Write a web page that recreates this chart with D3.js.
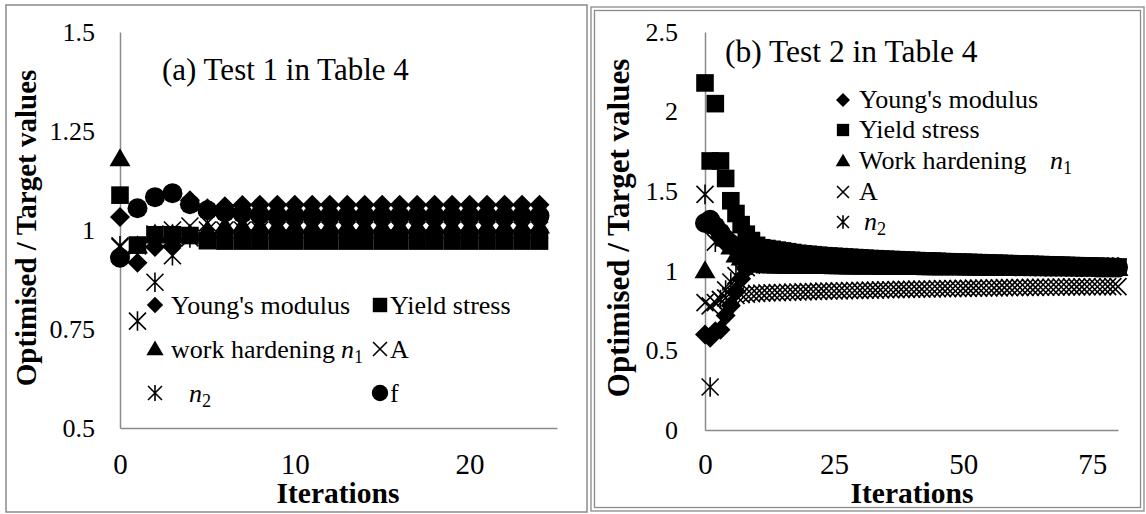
<!DOCTYPE html>
<html><head><meta charset="utf-8">
<script src="https://cdn.jsdelivr.net/npm/d3@7"></script>
<style>body{margin:0;background:#fff}svg{display:block}text{font-family:"Liberation Serif","Times New Roman",serif}</style>
</head><body>
<svg id="c" width="1146" height="514"></svg>
<script>
// ---------- Panel (a): Test 1 ----------
const leftXTicks = [0, 10, 20];
const leftYTicks = [0.5, 0.75, 1, 1.25, 1.5];
const leftYoung = [1.033,0.917,0.957,0.96,1.075,1.055,1.06,1.063,1.064,1.064,1.064,1.064,1.064,1.064,1.064,1.064,1.064,1.064,1.064,1.064,1.064,1.064,1.064,1.064,1.064];
const leftYield = [1.088,0.962,0.988,0.988,0.986,0.973,0.972,0.972,0.972,0.972,0.972,0.972,0.972,0.972,0.972,0.972,0.972,0.972,0.972,0.972,0.972,0.972,0.972,0.972,0.972];
const leftN1    = [1.18,0.96,0.99,0.99,0.99,1.0,1.01,1.01,1.01,1.01,1.01,1.01,1.01,1.01,1.01,1.01,1.01,1.01,1.01,1.01,1.01,1.01,1.01,1.01,1.01];
const leftA     = [0.957,0.96,0.99,1.0,1.01,1.018,1.02,1.02,1.02,1.02,1.02,1.02,1.02,1.02,1.02,1.02,1.02,1.02,1.02,1.02,1.02,1.02,1.02,1.02,1.02];
const leftN2    = [0.96,0.77,0.868,0.935,0.98,1.0,1.0,1.0,1.0,1.0,1.0,1.0,1.0,1.0,1.0,1.0,1.0,1.0,1.0,1.0,1.0,1.0,1.0,1.0,1.0];
const leftF     = [0.93,1.055,1.083,1.093,1.065,1.05,1.045,1.042,1.038,1.036,1.036,1.036,1.036,1.036,1.036,1.036,1.036,1.036,1.036,1.036,1.036,1.036,1.036,1.036,1.036];

// ---------- Panel (b): Test 2 ----------
const rightXTicks = [0, 25, 50, 75];
const rightYTicks = [0, 0.5, 1, 1.5, 2, 2.5];
const rightYoung = [0.6,0.58,0.62,0.63,0.72,0.78,0.87,0.95,1.01,1.05,1.07,
 1.075,1.075,1.074,1.073,1.072,1.071,1.07,1.069,1.068,1.067,
 1.066,1.065,1.064,1.063,1.062,1.061,1.06,1.059,1.058,1.057,
 1.056,1.055,1.054,1.053,1.052,1.051,1.05,1.049,1.048,1.047,
 1.046,1.045,1.044,1.043,1.042,1.041,1.04,1.039,1.038,1.037,
 1.036,1.036,1.035,1.035,1.034,1.034,1.033,1.033,1.032,1.032,
 1.031,1.031,1.03,1.03,1.029,1.029,1.028,1.028,1.027,1.027,
 1.026,1.026,1.025,1.025,1.024,1.024,1.023,1.023,1.022,1.022];
const rightYield = [2.18,1.69,2.05,1.69,1.58,1.44,1.36,1.29,1.23,1.19,1.16,
 1.145,1.14,1.135,1.13,1.125,1.12,1.115,1.11,1.107,1.104,
 1.101,1.098,1.095,1.093,1.091,1.089,1.087,1.085,1.083,1.081,
 1.079,1.077,1.076,1.074,1.073,1.071,1.07,1.068,1.067,1.066,
 1.064,1.063,1.062,1.061,1.06,1.058,1.057,1.056,1.055,1.054,
 1.053,1.052,1.051,1.05,1.049,1.048,1.047,1.046,1.045,1.044,
 1.043,1.042,1.041,1.04,1.039,1.038,1.037,1.036,1.035,1.034,
 1.033,1.032,1.031,1.03,1.029,1.028,1.027,1.026,1.025,1.024];
const rightN1 = [1.0,1.3,1.28,1.25,1.2,1.15,1.1,1.08,1.06,1.05,1.04,
 1.035,1.032,1.03,1.03,1.03,1.029,1.029,1.029,1.028,1.028,
 1.028,1.027,1.027,1.027,1.026,1.026,1.026,1.025,1.025,1.025,
 1.024,1.024,1.024,1.023,1.023,1.023,1.022,1.022,1.022,1.021,
 1.021,1.021,1.02,1.02,1.02,1.02,1.019,1.019,1.019,1.019,
 1.018,1.018,1.018,1.018,1.017,1.017,1.017,1.017,1.017,1.016,
 1.016,1.016,1.016,1.016,1.016,1.015,1.015,1.015,1.015,1.015,
 1.015,1.015,1.015,1.015,1.015,1.015,1.015,1.015,1.015,1.015];
const rightA = [0.8,0.78,0.8,0.82,0.83,0.84,0.845,0.85,0.853,0.856,0.858,
 0.86,0.861,0.862,0.863,0.864,0.865,0.866,0.867,0.868,0.869,
 0.87,0.871,0.872,0.873,0.873,0.874,0.875,0.876,0.876,0.877,
 0.878,0.879,0.879,0.88,0.881,0.881,0.882,0.883,0.883,0.884,
 0.885,0.885,0.886,0.886,0.887,0.888,0.888,0.889,0.889,0.89,
 0.89,0.891,0.891,0.892,0.892,0.893,0.893,0.894,0.894,0.895,
 0.895,0.895,0.896,0.896,0.897,0.897,0.897,0.898,0.898,0.898,
 0.899,0.899,0.899,0.9,0.9,0.9,0.9,0.901,0.901,0.901];
const rightN2 = [1.48,0.27,1.18,0.82,0.88,0.93,0.97,1.0,1.02,1.035,1.045,
 1.048,1.05,1.05,1.05,1.05,1.049,1.049,1.048,1.048,1.047,
 1.047,1.046,1.046,1.045,1.045,1.044,1.044,1.043,1.043,1.042,
 1.042,1.041,1.041,1.04,1.04,1.039,1.039,1.038,1.038,1.037,
 1.037,1.036,1.036,1.035,1.035,1.034,1.034,1.033,1.033,1.032,
 1.032,1.031,1.031,1.03,1.03,1.03,1.029,1.029,1.029,1.028,
 1.028,1.028,1.027,1.027,1.027,1.026,1.026,1.026,1.026,1.025,
 1.025,1.025,1.025,1.024,1.024,1.024,1.024,1.024,1.023,1.023];
const rightF = [1.3,1.32,1.28,1.24,1.2,1.17,1.15,1.13,1.12,1.11,1.1,
 1.095,1.092,1.09,1.088,1.086,1.084,1.082,1.08,1.078,1.076,
 1.074,1.072,1.07,1.068,1.066,1.064,1.062,1.06,1.058,1.056,
 1.055,1.054,1.053,1.052,1.051,1.05,1.049,1.048,1.047,1.046,
 1.045,1.044,1.043,1.042,1.041,1.04,1.039,1.038,1.037,1.036,
 1.035,1.034,1.033,1.032,1.032,1.031,1.031,1.03,1.03,1.029,
 1.029,1.028,1.028,1.027,1.027,1.026,1.026,1.025,1.025,1.024,
 1.024,1.023,1.023,1.022,1.022,1.021,1.021,1.02,1.02,1.02];

// ---------- drawing helpers ----------
function markerPath(type, r) {
  switch (type) {
    case "diamond": return `M0,${-r}L${r},0L0,${r}L${-r},0Z`;
    case "square": return `M${-r},${-r}h${2*r}v${2*r}h${-2*r}Z`;
    case "triangle": return `M0,${-r}L${r},${r*0.72}L${-r},${r*0.72}Z`;
    case "circle": { const p = d3.path(); p.arc(0, 0, r, 0, 2*Math.PI); p.closePath(); return p.toString(); }
    case "x": return `M${-r},${-r}L${r},${r}M${-r},${r}L${r},${-r}`;
    case "star": return `M${-r},${-r}L${r},${r}M${-r},${r}L${r},${-r}M0,${-r*1.15}V${r*1.15}`;
  }
}
const sizes = {diamond:10, square:8.8, triangle:10.5, circle:10, x:8.5, star:8.5};
function drawMarker(g, type, x, y, scale) {
  const r = sizes[type] * (scale || 1);
  const open = (type === "x" || type === "star");
  g.append("path").attr("d", markerPath(type, r))
    .attr("transform", `translate(${x},${y})`)
    .attr("fill", open ? "none" : "#000")
    .attr("stroke", open ? "#000" : "none")
    .attr("stroke-width", 1.6);
}
const svg = d3.select("#c");
const grey = "#8a8a8a";

// panel borders
svg.append("rect").attr("x",6).attr("y",5).attr("width",581).attr("height",507)
  .attr("fill","none").attr("stroke",grey).attr("stroke-width",1.5);
svg.append("rect").attr("x",591).attr("y",7).attr("width",553).attr("height",504)
  .attr("fill","none").attr("stroke",grey).attr("stroke-width",1.3);
svg.append("rect").attr("x",594.5).attr("y",10.5).attr("width",546).attr("height",497)
  .attr("fill","none").attr("stroke",grey).attr("stroke-width",1.3);

function panel(cfg) {
  const x = d3.scaleLinear().domain(cfg.xDomain).range(cfg.xRange);
  const y = d3.scaleLinear().domain(cfg.yDomain).range(cfg.yRange);
  const g = svg.append("g");
  const ya = g.append("g").attr("transform", `translate(${cfg.xRange[0]},0)`)
    .call(d3.axisLeft(y).tickValues(cfg.yTicks).tickSize(0).tickPadding(cfg.yPad).tickFormat(d => String(d)));
  const xa = g.append("g").attr("transform", `translate(0,${cfg.yRange[0]})`)
    .call(d3.axisBottom(x).tickValues(cfg.xTicks).tickSize(0).tickPadding(cfg.xPad).tickFormat(d => String(d)));
  [ya, xa].forEach(a => {
    a.select(".domain").attr("stroke", grey).attr("stroke-width", 1.5);
    a.selectAll("text").attr("fill", "#000").style("font-family", '"Liberation Serif",serif');
  });
  ya.selectAll("text").style("font-size", cfg.yTickSize + "px");
  xa.selectAll("text").style("font-size", cfg.xTickSize + "px");
  const pts = g.append("g");
  cfg.series.forEach(s => {
    s.values.forEach((v, i) => drawMarker(pts, s.type, x(i), y(v)));
  });
  return {x, y, g};
}

panel({
  xDomain:[0,25], xRange:[120,557], yDomain:[0.5,1.5], yRange:[428,32],
  xTicks:leftXTicks, yTicks:leftYTicks, yPad:25, xPad:25, yTickSize:26, xTickSize:29,
  series:[
    {type:"diamond", values:leftYoung},
    {type:"square", values:leftYield},
    {type:"triangle", values:leftN1},
    {type:"x", values:leftA},
    {type:"star", values:leftN2},
    {type:"circle", values:leftF}
  ]
});
panel({
  xDomain:[0,80], xRange:[705,1118], yDomain:[0,2.5], yRange:[430,32],
  xTicks:rightXTicks, yTicks:rightYTicks, yPad:27, xPad:23, yTickSize:26, xTickSize:29,
  series:[
    {type:"diamond", values:rightYoung},
    {type:"square", values:rightYield},
    {type:"triangle", values:rightN1},
    {type:"x", values:rightA},
    {type:"star", values:rightN2},
    {type:"circle", values:rightF}
  ]
});

// titles
svg.append("text").attr("x",162).attr("y",80).style("font-size","31px").text("(a) Test 1 in Table 4");
svg.append("text").attr("x",725).attr("y",62).style("font-size","31.5px").text("(b) Test 2 in Table 4");

// axis titles
svg.append("text").attr("transform","translate(36,228) rotate(-90)").attr("text-anchor","middle")
  .style("font-size","29px").style("font-weight","bold").text("Optimised / Target values");
svg.append("text").attr("transform","translate(629,228) rotate(-90)").attr("text-anchor","middle")
  .style("font-size","31px").style("font-weight","bold").text("Optimised / Target values");
svg.append("text").attr("x",338).attr("y",503).attr("text-anchor","middle")
  .style("font-size","29.5px").style("font-weight","bold").text("Iterations");
svg.append("text").attr("x",912).attr("y",503).attr("text-anchor","middle")
  .style("font-size","29.5px").style("font-weight","bold").text("Iterations");

// legend helper
function legendText(x, y, label, sub, subX, size) {
  const t = svg.append("text").attr("x", x).attr("y", y).style("font-size", size + "px");
  if (label) t.append("tspan").text(label);
  if (sub) {
    const t2 = svg.append("text").attr("x", subX).attr("y", y).style("font-size", size + "px");
    t2.append("tspan").style("font-style","italic").text("n");
    t2.append("tspan").attr("dy", 5).style("font-size", (size*0.7) + "px").text(sub);
  }
}
const leftLegend = [
  {type:"diamond", label:"Young's modulus", col:0, row:0},
  {type:"square", label:"Yield stress", col:1, row:0},
  {type:"triangle", label:"work hardening", sub:"1", subX:341, col:0, row:1},
  {type:"x", label:"A", col:1, row:1},
  {type:"star", label:"", sub:"2", subX:189, col:0, row:2},
  {type:"circle", label:"f", col:1, row:2}
];
const lg = svg.append("g");
leftLegend.forEach(d => {
  const mx = d.col ? 380 : 155, cy = 305 + d.row * 44;
  drawMarker(lg, d.type, mx, cy, 0.82);
  legendText(d.col ? 390 : 171, cy + 9, d.label, d.sub, d.subX, 26);
});
const rightLegend = [
  {type:"diamond", label:"Young's modulus"},
  {type:"square", label:"Yield stress"},
  {type:"triangle", label:"Work hardening", sub:"1", subX:1050},
  {type:"x", label:"A"},
  {type:"star", label:"", sub:"2", subX:864}
];
const rg = svg.append("g");
const rightRows = [100, 130, 161, 192, 222];
rightLegend.forEach((d, i) => {
  drawMarker(rg, d.type, 843, rightRows[i], 0.7);
  legendText(859, rightRows[i] + 8, d.label, d.sub, d.subX, 26);
});
</script>
</body></html>
